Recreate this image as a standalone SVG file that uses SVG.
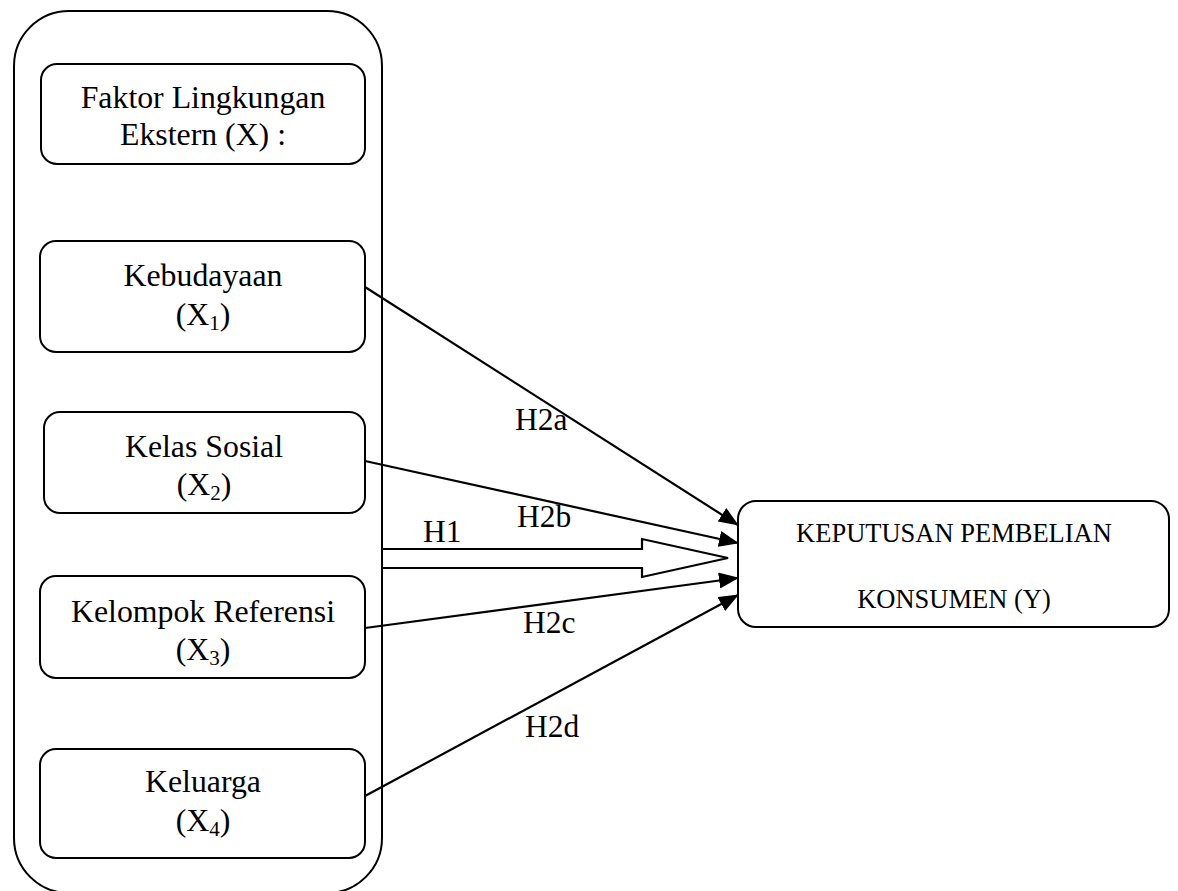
<svg xmlns="http://www.w3.org/2000/svg" width="1178" height="891" viewBox="0 0 1178 891">
<style>
.box{fill:#fff;stroke:#000;stroke-width:2}
.t{font-family:"Liberation Serif","Times New Roman",serif;font-size:31.8px;fill:#000;text-anchor:middle}
.lab{font-family:"Liberation Serif","Times New Roman",serif;font-size:31.5px;fill:#000}
.y{font-family:"Liberation Serif","Times New Roman",serif;font-size:26.5px;fill:#000;text-anchor:middle}
.sub{font-size:21px}
.ln{stroke:#000;stroke-width:2.2;fill:none}
</style>
<defs>
<marker id="ah" markerUnits="userSpaceOnUse" markerWidth="20" markerHeight="16" refX="19" refY="8" orient="auto">
<path d="M0,0 L20,8 L0,16 Z" fill="#000"/>
</marker>
</defs>
<rect width="1178" height="891" fill="#fff"/>
<g id="outer">
<rect class="box" x="14" y="11" width="368" height="882" rx="55" ry="55"/>
</g>
<g id="faktor">
<rect class="box" x="41" y="64" width="324" height="100" rx="16"/>
<text class="t" x="203" y="108">Faktor Lingkungan</text>
<text class="t" x="203" y="145">Ekstern (X) :</text>
</g>
<g id="x1">
<rect class="box" x="40" y="241" width="325" height="111" rx="16"/>
<text class="t" x="203" y="286">Kebudayaan</text>
<text class="t" x="203" y="325">(X<tspan class="sub" dy="5">1</tspan><tspan dy="-5">)</tspan></text>
</g>
<g id="x2">
<rect class="box" x="44" y="412" width="321" height="101" rx="16"/>
<text class="t" x="204" y="457">Kelas Sosial</text>
<text class="t" x="204" y="495">(X<tspan class="sub" dy="5">2</tspan><tspan dy="-5">)</tspan></text>
</g>
<g id="x3">
<rect class="box" x="40" y="576" width="325" height="102" rx="16"/>
<text class="t" x="203" y="622">Kelompok Referensi</text>
<text class="t" x="203" y="660">(X<tspan class="sub" dy="5">3</tspan><tspan dy="-5">)</tspan></text>
</g>
<g id="x4">
<rect class="box" x="40" y="749" width="325" height="109" rx="16"/>
<text class="t" x="203" y="792">Keluarga</text>
<text class="t" x="203" y="831">(X<tspan class="sub" dy="5">4</tspan><tspan dy="-5">)</tspan></text>
</g>
<g id="y">
<rect class="box" x="738" y="501" width="431" height="126" rx="18"/>
<text class="y" x="954" y="542">KEPUTUSAN PEMBELIAN</text>
<text class="y" x="954" y="608">KONSUMEN (Y)</text>
</g>
<g id="connectors">
<line class="ln" x1="365" y1="287" x2="738" y2="525" marker-end="url(#ah)"/>
<line class="ln" x1="365" y1="461" x2="738" y2="543" marker-end="url(#ah)"/>
<line class="ln" x1="365" y1="628" x2="738" y2="578" marker-end="url(#ah)"/>
<line class="ln" x1="365" y1="796" x2="738" y2="595" marker-end="url(#ah)"/>
<path class="ln" d="M382,549 L642,549 L642,539 L728,558 L642,577 L642,568 L382,568" stroke-width="2"/>
<text class="lab" x="515" y="430">H2a</text>
<text class="lab" x="517" y="527">H2b</text>
<text class="lab" x="423" y="542">H1</text>
<text class="lab" x="523" y="633">H2c</text>
<text class="lab" x="525" y="737">H2d</text>
</g>
</svg>
